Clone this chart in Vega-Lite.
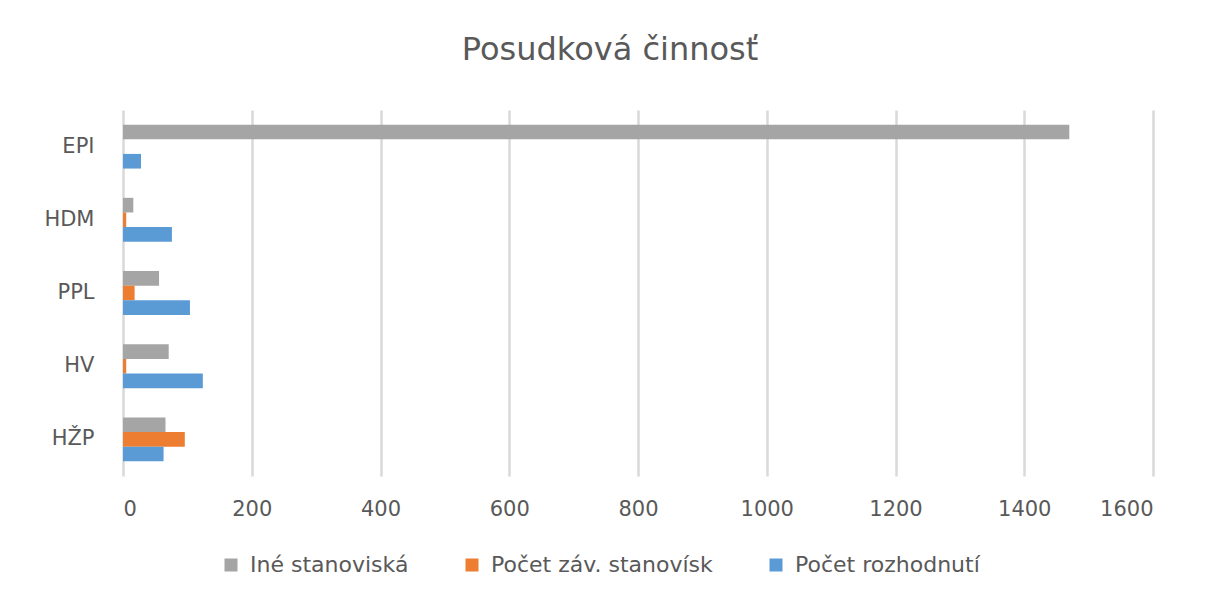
{
  "$schema": "https://vega.github.io/schema/vega-lite/v6.json",
  "width": 1030,
  "height": 366,
  "padding": {"left": 43, "top": 34, "right": 35, "bottom": 5},
  "background": "white",
  "title": {
    "text": "Posudková činnosť",
    "fontSize": 32,
    "font": "DejaVu Sans",
    "fontWeight": "normal",
    "color": "#595959",
    "anchor": "middle",
    "dx": -28,
    "offset": 43
  },
  "data": {
    "values": [
      {"kategoria": "EPI", "typ": "Iné stanoviská", "hodnota": 1470},
      {"kategoria": "EPI", "typ": "Počet záv. stanovísk", "hodnota": 0},
      {"kategoria": "EPI", "typ": "Počet rozhodnutí", "hodnota": 28},
      {"kategoria": "HDM", "typ": "Iné stanoviská", "hodnota": 16},
      {"kategoria": "HDM", "typ": "Počet záv. stanovísk", "hodnota": 5},
      {"kategoria": "HDM", "typ": "Počet rozhodnutí", "hodnota": 76},
      {"kategoria": "PPL", "typ": "Iné stanoviská", "hodnota": 56},
      {"kategoria": "PPL", "typ": "Počet záv. stanovísk", "hodnota": 18},
      {"kategoria": "PPL", "typ": "Počet rozhodnutí", "hodnota": 104},
      {"kategoria": "HV", "typ": "Iné stanoviská", "hodnota": 71},
      {"kategoria": "HV", "typ": "Počet záv. stanovísk", "hodnota": 5},
      {"kategoria": "HV", "typ": "Počet rozhodnutí", "hodnota": 124},
      {"kategoria": "HŽP", "typ": "Iné stanoviská", "hodnota": 66},
      {"kategoria": "HŽP", "typ": "Počet záv. stanovísk", "hodnota": 96},
      {"kategoria": "HŽP", "typ": "Počet rozhodnutí", "hodnota": 63}
    ]
  },
  "mark": {"type": "bar"},
  "encoding": {
    "y": {
      "field": "kategoria",
      "type": "nominal",
      "sort": ["EPI", "HDM", "PPL", "HV", "HŽP"],
      "scale": {"paddingInner": 0.4, "paddingOuter": 0.2},
      "axis": {
        "title": null,
        "domain": false,
        "ticks": false,
        "labelPadding": 29,
        "labelFont": "DejaVu Sans",
        "labelFontSize": 21,
        "labelColor": "#595959",
        "minExtent": 80,
        "maxExtent": 80
      }
    },
    "yOffset": {
      "field": "typ",
      "type": "nominal",
      "sort": ["Iné stanoviská", "Počet záv. stanovísk", "Počet rozhodnutí"],
      "scale": {"paddingInner": 0, "paddingOuter": 0}
    },
    "x": {
      "field": "hodnota",
      "type": "quantitative",
      "scale": {"domain": [0, 1600], "nice": false},
      "axis": {
        "title": null,
        "values": [0, 200, 400, 600, 800, 1000, 1200, 1400, 1600],
        "format": "d",
        "domain": false,
        "ticks": false,
        "grid": true,
        "gridColor": "#d9d9d9",
        "gridWidth": 2.5,
        "labelPadding": 22,
        "labelFont": "DejaVu Sans",
        "labelFontSize": 21,
        "labelColor": "#595959"
      }
    },
    "color": {
      "field": "typ",
      "type": "nominal",
      "scale": {
        "domain": ["Iné stanoviská", "Počet záv. stanovísk", "Počet rozhodnutí"],
        "range": ["#a5a5a5", "#ed7d31", "#5b9bd5"]
      },
      "legend": {
        "title": null,
        "orient": "none",
        "direction": "horizontal",
        "legendX": 97,
        "legendY": 444,
        "symbolType": "square",
        "symbolSize": 169,
        "symbolStrokeWidth": 0,
        "labelFont": "DejaVu Sans",
        "labelFontSize": 22,
        "labelColor": "#595959",
        "labelOffset": 8,
        "columnPadding": 52,
        "labelLimit": 400
      }
    }
  },
  "config": {
    "view": {"stroke": null},
    "axis": {"labelFontWeight": "normal"}
  }
}
